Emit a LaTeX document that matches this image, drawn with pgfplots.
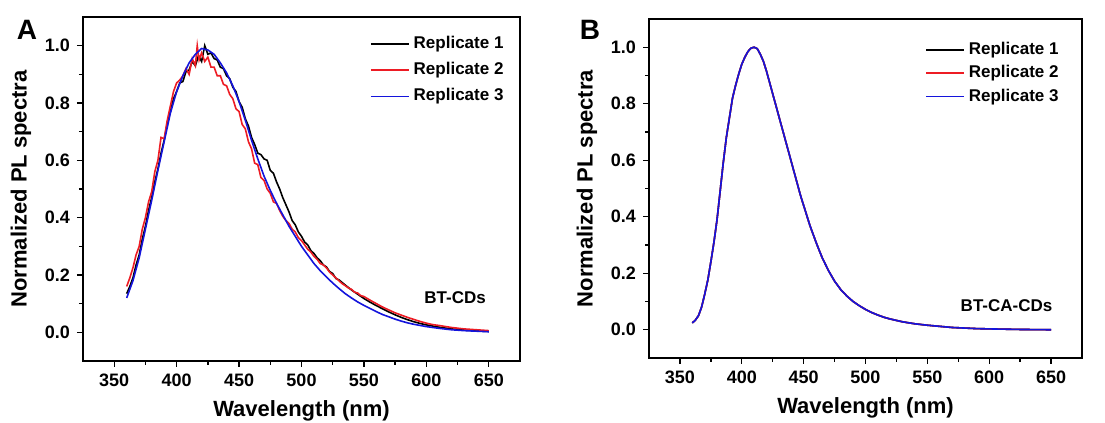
\documentclass[border=0pt]{standalone}
\usepackage{fontspec}
\setmainfont{Liberation Sans}
\usepackage{pgfplots}
\pgfplotsset{compat=1.18}

\pgfplotsset{
  plpanel/.style={
    scale only axis,
    anchor=south west,
    xmin=325, xmax=675,
    ymin=-0.1, ymax=1.1,
    xtick={350,400,...,650},
    ytick={0,0.2,...,1.0},
    minor x tick num=1,
    minor y tick num=1,
    tick pos=left,
    tick align=outside,
    major tick length=3pt,
    minor tick length=2pt,
    axis line style={line width=0.8pt},
    every tick/.style={line width=0.7pt, black},
    /pgf/number format/assume math mode=true,
    yticklabel style={/pgf/number format/fixed, /pgf/number format/fixed zerofill, /pgf/number format/precision=1},
    tick label style={font=\fontsize{9}{10}\selectfont\bfseries},
    label style={font=\fontsize{11}{12}\selectfont\bfseries},
    xlabel={Wavelength (nm)},
    ylabel={Normalized PL spectra},
    legend style={draw=none, fill=none, anchor=north east,
      font=\fontsize{8.5}{10}\selectfont\bfseries,
      /tikz/every even column/.append style={column sep=2pt}},
    legend cell align=left,
    legend image code/.code={\draw[#1] (0pt,0pt) -- (19pt,0pt);},
    every axis plot/.append style={line width=0.8pt, no markers},
  }
}

\definecolor{rep1}{RGB}{0,0,0}
\definecolor{rep2}{RGB}{237,28,36}
\definecolor{rep3}{RGB}{20,20,220}

\begin{document}
\begin{tikzpicture}
\useasboundingbox (0,0) rectangle (552.5pt,211.5pt);

% ---- panel A: BT-CDs ----
\begin{axis}[plpanel, at={(41.5pt,31pt)}, width=218.5pt, height=172pt,
  legend style={at={(0.986,0.968)}, row sep=1.4pt}]
\addplot[rep1] coordinates {
(360,0.135) (362.5,0.16) (365,0.19) (367.5,0.235) (370,0.27) (372.5,0.325) (375,0.37) (377.5,0.425)
(380,0.47) (382.5,0.525) (385,0.57) (387.5,0.625) (390,0.67) (392.5,0.73) (395,0.77) (397.5,0.815)
(400,0.84) (402.5,0.87) (405,0.875) (407.5,0.91) (410,0.915) (412.5,0.945) (415,0.93) (417.5,0.965)
(420,0.945) (422.5,1.0) (425,0.97) (427.5,0.975) (430,0.955) (432.5,0.95) (435,0.925) (437.5,0.92)
(440,0.895) (442.5,0.885) (445,0.855) (447.5,0.84) (450,0.805) (452.5,0.785) (455,0.745) (457.5,0.72)
(460,0.68) (462.5,0.655) (465,0.625) (467.5,0.62) (470,0.605) (472.5,0.6) (475,0.565) (477.5,0.555)
(480,0.525) (482.5,0.5) (485,0.47) (487.5,0.445) (490,0.42) (492.5,0.39) (495,0.375) (497.5,0.35)
(500,0.335) (502.5,0.315) (505,0.305) (507.5,0.285) (510,0.275) (512.5,0.26) (515,0.25) (517.5,0.235)
(520,0.228) (522.5,0.212) (525,0.205) (527.5,0.188) (530,0.183) (535,0.165) (540,0.148) (545,0.133)
(550,0.118) (555,0.105) (560,0.093) (565,0.082) (570,0.071) (575,0.061) (580,0.052) (585,0.044)
(590,0.037) (595,0.031) (600,0.026) (610,0.018) (620,0.012) (630,0.008) (640,0.005) (650,0.003)
};
\addlegendentry{Replicate 1}
\addplot[rep2] coordinates {
(360,0.16) (362.5,0.19) (365,0.225) (367.5,0.27) (370,0.30) (372.5,0.36) (375,0.40) (377.5,0.455)
(380,0.49) (382.5,0.56) (385,0.60) (387.5,0.68) (390,0.675) (392.5,0.74) (395,0.79) (397.5,0.84)
(400,0.87) (402.5,0.88) (405,0.895) (407.5,0.92) (410,0.90) (412.5,0.955) (415,0.93) (416.5,1.0)
(418,0.95) (420,0.975) (422.5,0.945) (425,0.96) (427.5,0.925) (430,0.925) (432.5,0.895) (435,0.895)
(437.5,0.865) (440,0.86) (442.5,0.83) (445,0.815) (447.5,0.78) (450,0.77) (452.5,0.725) (455,0.71)
(457.5,0.665) (460,0.64) (462.5,0.59) (465,0.585) (467.5,0.54) (470,0.53) (472.5,0.5) (475,0.485)
(477.5,0.455) (480,0.45) (482.5,0.425) (485,0.405) (487.5,0.39) (490,0.38) (492.5,0.36) (495,0.35)
(497.5,0.33) (500,0.32) (502.5,0.305) (505,0.29) (507.5,0.28) (510,0.265) (512.5,0.255) (515,0.24)
(517.5,0.235) (520,0.225) (522.5,0.21) (525,0.2) (527.5,0.19) (530,0.18) (532.5,0.17) (535,0.163)
(537.5,0.155) (540,0.15) (542.5,0.14) (545,0.137) (547.5,0.128) (550,0.125) (555,0.112) (560,0.1)
(565,0.088) (570,0.078) (575,0.068) (580,0.06) (585,0.052) (590,0.045) (595,0.038) (600,0.032)
(605,0.027) (610,0.024) (620,0.017) (630,0.012) (640,0.009) (650,0.006)
};
\addlegendentry{Replicate 2}
\addplot[rep3] coordinates {
(360,0.12) (365,0.18) (370,0.26) (375,0.36) (380,0.46) (385,0.565) (390,0.665) (395,0.765)
(400,0.84) (405,0.895) (410,0.94) (415,0.97) (420,0.99) (425,0.985) (430,0.97) (435,0.94)
(440,0.905) (445,0.86) (450,0.805) (455,0.74) (460,0.67) (465,0.605) (470,0.545) (475,0.495)
(480,0.45) (485,0.41) (490,0.37) (495,0.335) (500,0.30) (505,0.27) (510,0.24) (515,0.215)
(520,0.193) (525,0.172) (530,0.153) (535,0.135) (540,0.12) (545,0.106) (550,0.094) (555,0.083)
(560,0.072) (565,0.062) (570,0.054) (575,0.046) (580,0.039) (585,0.033) (590,0.028) (595,0.024)
(600,0.02) (610,0.014) (620,0.009) (630,0.006) (640,0.004) (650,0.002)
};
\addlegendentry{Replicate 3}
\node[font=\fontsize{8.5}{10}\selectfont\bfseries] at (axis cs:623,0.12) {BT-CDs};
\end{axis}

% ---- panel B: BT-CA-CDs ----
\pgfplotstableread{
x y
360 0.024
362.5 0.034
365 0.05
367.5 0.08
370 0.125
372.5 0.175
375 0.24
377.5 0.31
380 0.39
382.5 0.49
385 0.59
387.5 0.68
390 0.75
392.5 0.82
395 0.865
397.5 0.905
400 0.94
402.5 0.965
405 0.985
407.5 0.997
410 1.0
412.5 0.995
415 0.975
417.5 0.95
420 0.915
422.5 0.875
425 0.835
427.5 0.795
430 0.755
432.5 0.715
435 0.675
437.5 0.635
440 0.595
442.5 0.555
445 0.515
447.5 0.475
450 0.44
452.5 0.405
455 0.37
457.5 0.34
460 0.31
462.5 0.282
465 0.255
470 0.21
475 0.172
480 0.142
485 0.119
490 0.1
495 0.085
500 0.072
505 0.061
510 0.052
515 0.044
520 0.038
530 0.028
540 0.021
550 0.016
560 0.012
570 0.008
580 0.006
590 0.004
600 0.003
625 0.001
650 0.0
}\spectrumB

\begin{axis}[plpanel, at={(324.5pt,32.5pt)}, width=216.5pt, height=169.5pt,
  legend style={at={(0.97,0.956)}, row sep=0pt}]
\addplot[rep1] table[x=x,y=y] {\spectrumB};
\addlegendentry{Replicate 1}
\addplot[rep2] table[x=x,y=y] {\spectrumB};
\addlegendentry{Replicate 2}
\addplot[rep3] table[x=x,y=y] {\spectrumB};
\addlegendentry{Replicate 3}
\node[font=\fontsize{8.5}{10}\selectfont\bfseries] at (axis cs:614,0.085) {BT-CA-CDs};
\end{axis}

\node[font=\fontsize{14}{16}\selectfont\bfseries] at (13.5pt,196.5pt) {A};
\node[font=\fontsize{14}{16}\selectfont\bfseries] at (295pt,196.5pt) {B};
\end{tikzpicture}
\end{document}
